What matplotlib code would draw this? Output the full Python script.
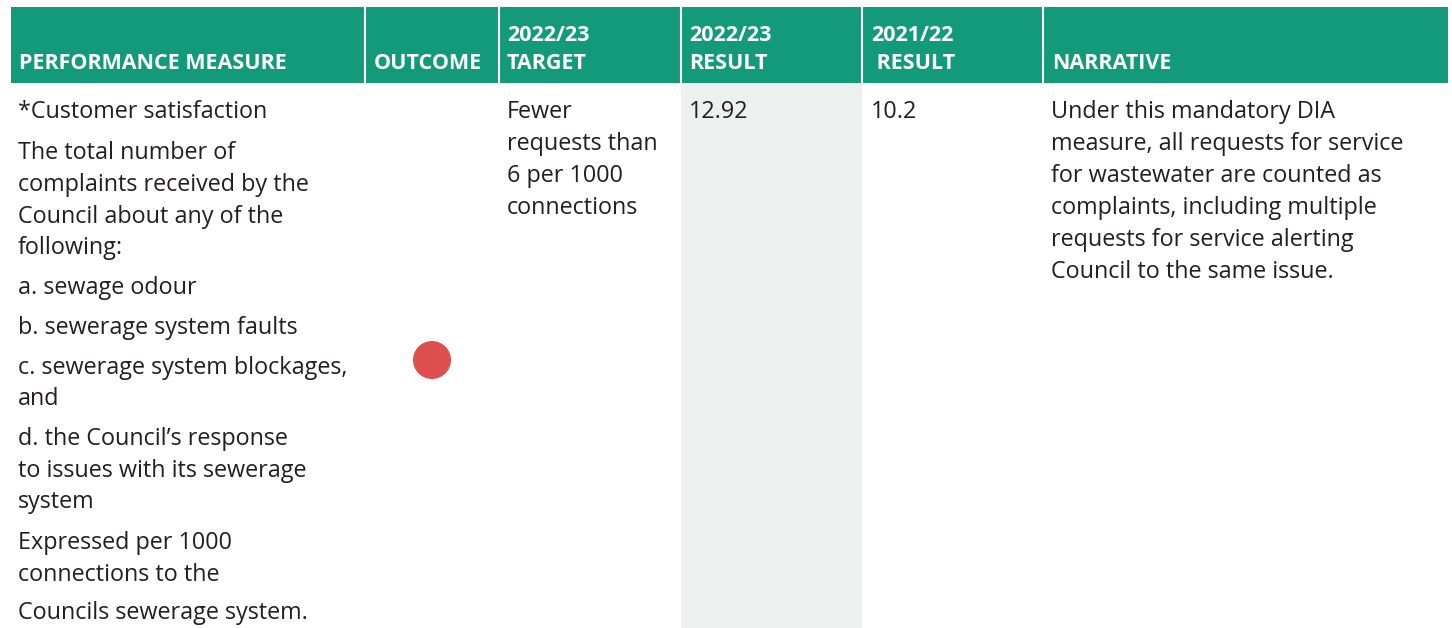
import matplotlib
matplotlib.use("Agg")
import matplotlib.pyplot as plt
from matplotlib.patches import Rectangle, Circle

# ---- data ----
headers = ["PERFORMANCE MEASURE", "OUTCOME", "2022/23\nTARGET", "2022/23\nRESULT", "2021/22\n RESULT", "NARRATIVE"]
measure_lines = ["*Customer satisfaction", "The total number of", "complaints received by the",
                 "Council about any of the", "following:", "a. sewage odour",
                 "b. sewerage system faults", "c. sewerage system blockages,", "and",
                 "d. the Council\u2019s response", "to issues with its sewerage", "system",
                 "Expressed per 1000", "connections to the", "Councils sewerage system."]
measure_y = [110, 151, 183, 215, 246, 286, 326, 366, 397, 437, 469, 500, 541, 573, 611]
target_lines = ["Fewer", "requests than", "6 per 1000", "connections"]
result_2223 = "12.92"
result_2122 = "10.2"
narrative_lines = ["Under this mandatory DIA", "measure, all requests for service",
                   "for wastewater are counted as", "complaints, including multiple",
                   "requests for service alerting", "Council to the same issue."]
outcome_status = "not achieved"

# ---- layout ----
W, H = 1452, 628
col_edges = [11, 365, 499, 681, 862, 1043, 1448]
HEAD_TOP, HEAD_BOT = 7, 83
GREEN = "#139A7B"
SHADE = "#ECF1EF"
RED = "#DE4E4E"
FONT = ["Open Sans", "DejaVu Sans"]
BODY_FS = 16.8
HEAD_FS = 15.5
BASE_OFF = 8  # baseline offset from visual line centre (px)

fig = plt.figure(figsize=(W / 100, H / 100), dpi=100)
ax = fig.add_axes([0, 0, 1, 1])
ax.set_xlim(0, W)
ax.set_ylim(H, 0)
ax.axis("off")

# header background
ax.add_patch(Rectangle((col_edges[0], HEAD_TOP), col_edges[-1] - col_edges[0], HEAD_BOT - HEAD_TOP,
                       facecolor=GREEN, edgecolor="none"))
for x in col_edges[1:-1]:
    ax.plot([x, x], [HEAD_TOP, HEAD_BOT], color="white", lw=1.5)

# shaded result column
ax.add_patch(Rectangle((col_edges[3], HEAD_BOT), col_edges[4] - col_edges[3], H - HEAD_BOT,
                       facecolor=SHADE, edgecolor="none"))

head_x = [19, 374, 507, 689, 871, 1052]
for hx, htxt in zip(head_x, headers):
    lines = htxt.split("\n")
    ys = [61] if len(lines) == 1 else [33, 61]
    for ly, lt in zip(ys, lines):
        ax.text(hx, ly + 8, lt, color="white", fontsize=HEAD_FS, fontweight="bold",
                family=FONT, va="baseline", ha="left")

body_color = "#231F20"


def body(x, y, t):
    ax.text(x, y + BASE_OFF, t, fontsize=BODY_FS, family=FONT, color=body_color,
            va="baseline", ha="left")


for t, y in zip(measure_lines, measure_y):
    body(18, y, t)

for i, t in enumerate(target_lines):
    body(507, 110 + 32 * i, t)

body(689, 110, result_2223)
body(871, 110, result_2122)

for i, t in enumerate(narrative_lines):
    body(1051, 110 + 32 * i, t)

status_color = {"not achieved": RED, "achieved": GREEN}[outcome_status]
ax.add_patch(Circle((432, 360), 19, facecolor=status_color, edgecolor="none"))

fig.savefig("out.png", dpi=100, facecolor="white")
